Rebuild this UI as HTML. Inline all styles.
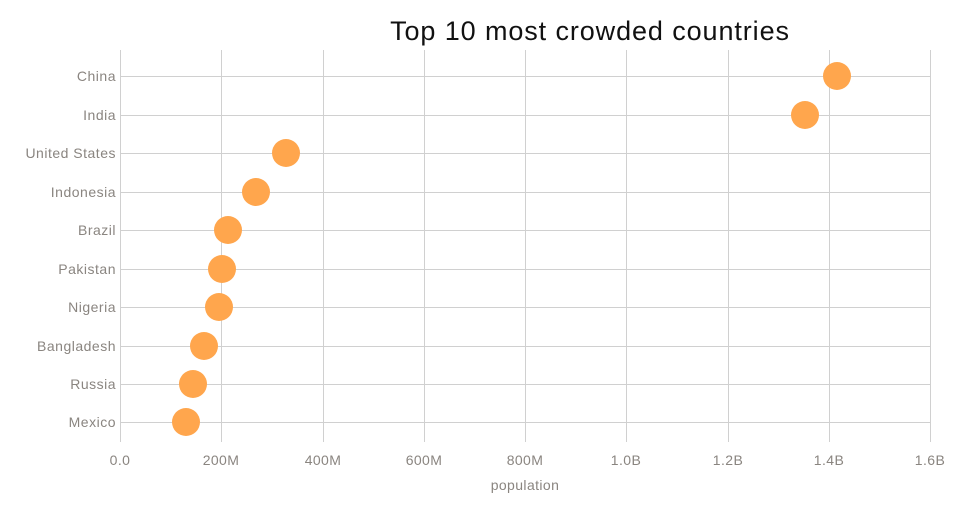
<!DOCTYPE html><html><head><style>body{margin:0;background:#fff}</style></head><body>
<svg width="960" height="500" xmlns="http://www.w3.org/2000/svg" font-family="'Liberation Sans',sans-serif">
<rect width="960" height="500" fill="#fff"/>
<g stroke="#d0d0d0" stroke-width="1">
<line x1="120.5" y1="50" x2="120.5" y2="442"/><line x1="221.5" y1="50" x2="221.5" y2="442"/><line x1="323.5" y1="50" x2="323.5" y2="442"/><line x1="424.5" y1="50" x2="424.5" y2="442"/><line x1="525.5" y1="50" x2="525.5" y2="442"/><line x1="626.5" y1="50" x2="626.5" y2="442"/><line x1="728.5" y1="50" x2="728.5" y2="442"/><line x1="829.5" y1="50" x2="829.5" y2="442"/><line x1="930.5" y1="50" x2="930.5" y2="442"/>
<line x1="120" y1="76.5" x2="930" y2="76.5"/><line x1="120" y1="115.5" x2="930" y2="115.5"/><line x1="120" y1="153.5" x2="930" y2="153.5"/><line x1="120" y1="192.5" x2="930" y2="192.5"/><line x1="120" y1="230.5" x2="930" y2="230.5"/><line x1="120" y1="269.5" x2="930" y2="269.5"/><line x1="120" y1="307.5" x2="930" y2="307.5"/><line x1="120" y1="346.5" x2="930" y2="346.5"/><line x1="120" y1="384.5" x2="930" y2="384.5"/><line x1="120" y1="422.5" x2="930" y2="422.5"/>
</g>
<g fill="#ffa64d">
<circle cx="837" cy="76" r="14"/><circle cx="805" cy="115" r="14"/><circle cx="286" cy="153" r="14"/><circle cx="256" cy="192" r="14"/><circle cx="228" cy="230" r="14"/><circle cx="222" cy="269" r="14"/><circle cx="219" cy="307" r="14"/><circle cx="204" cy="346" r="14"/><circle cx="193" cy="384" r="14"/><circle cx="186" cy="422" r="14"/>
</g>
<g fill="#8a8580" font-size="14" text-anchor="end" letter-spacing="0.5">
<text x="116" y="81">China</text><text x="116" y="120">India</text><text x="116" y="158">United States</text><text x="116" y="197">Indonesia</text><text x="116" y="235">Brazil</text><text x="116" y="274">Pakistan</text><text x="116" y="312">Nigeria</text><text x="116" y="351">Bangladesh</text><text x="116" y="389">Russia</text><text x="116" y="427">Mexico</text>
</g>
<g fill="#8a8580" font-size="14" text-anchor="middle" letter-spacing="0.4">
<text x="120" y="465">0.0</text><text x="221" y="465">200M</text><text x="323" y="465">400M</text><text x="424" y="465">600M</text><text x="525" y="465">800M</text><text x="626" y="465">1.0B</text><text x="728" y="465">1.2B</text><text x="829" y="465">1.4B</text><text x="930" y="465">1.6B</text>
<text x="525" y="490">population</text>
</g>
<text x="590" y="40" font-size="27" text-anchor="middle" fill="#111" letter-spacing="0.9">Top 10 most crowded countries</text>
</svg>
</body></html>
